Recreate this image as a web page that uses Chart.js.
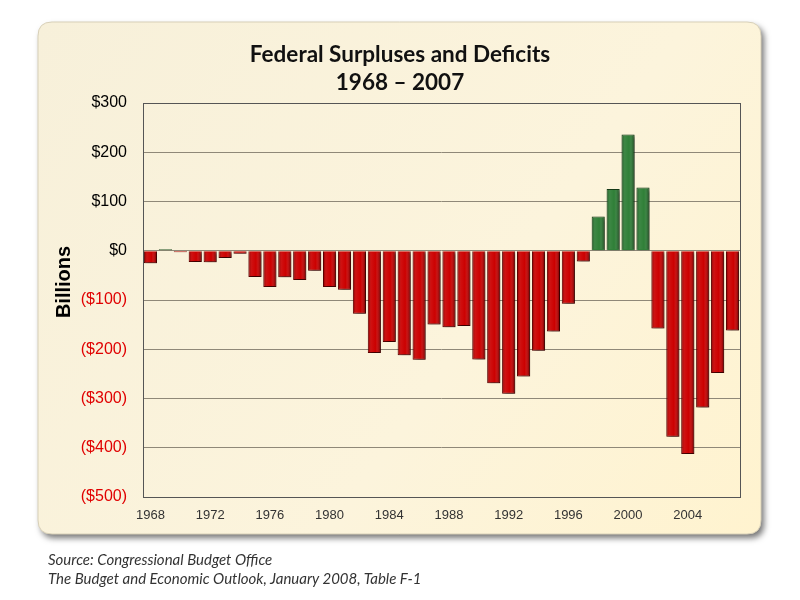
<!DOCTYPE html>
<html>
<head>
<meta charset="utf-8">
<script src="https://cdn.jsdelivr.net/npm/chart.js@4/dist/chart.umd.min.js"></script>
<style>
html,body{margin:0;padding:0;background:#fff;}
#wrap{position:relative;width:800px;height:600px;}
canvas{position:absolute;left:0;top:0;}
.src{position:absolute;left:48px;font-family:Lato,"Open Sans",sans-serif;font-style:italic;font-size:15px;color:#333;line-height:18px;}
</style>
</head>
<body>
<div id="wrap">
<canvas id="c" width="800" height="600"></canvas>
<div class="src" style="top:550px">Source: Congressional Budget Office</div>
<div class="src" style="top:569px">The Budget and Economic Outlook, January 2008, Table F-1</div>
</div>
<script>
const years = ['1968','1969','1970','1971','1972','1973','1974','1975','1976','1977','1978','1979','1980','1981','1982','1983','1984','1985','1986','1987','1988','1989','1990','1991','1992','1993','1994','1995','1996','1997','1998','1999','2000','2001','2002','2003','2004','2005','2006','2007'];
const balance = [-25.2,3.2,-2.8,-23.0,-23.4,-14.9,-6.1,-53.2,-73.7,-53.7,-59.2,-40.7,-73.8,-79.0,-128.0,-207.8,-185.4,-212.3,-221.2,-149.7,-155.2,-152.6,-221.0,-269.2,-290.3,-255.1,-203.2,-164.0,-107.4,-21.9,69.3,125.6,236.2,128.2,-157.8,-377.6,-412.7,-318.3,-248.2,-162.0];
const titleLines = ['Federal Surpluses and Deficits','1968 \u2013 2007'];
const yAxisTitle = 'Billions';

const RED = '#CC0000', RED_EDGE = '#5a0000';
const GREEN = '#2F7F37', GREEN_EDGE = '#143a17';

function roundRect(ctx,x,y,w,h,r){
  ctx.beginPath();
  ctx.moveTo(x+r,y);ctx.lineTo(x+w-r,y);ctx.quadraticCurveTo(x+w,y,x+w,y+r);
  ctx.lineTo(x+w,y+h-r);ctx.quadraticCurveTo(x+w,y+h,x+w-r,y+h);
  ctx.lineTo(x+r,y+h);ctx.quadraticCurveTo(x,y+h,x,y+h-r);
  ctx.lineTo(x,y+r);ctx.quadraticCurveTo(x,y,x+r,y);ctx.closePath();
}

const decor = {
  id:'decor',
  beforeDraw(chart){
    const ctx = chart.ctx;
    ctx.save();
    roundRect(ctx,38,22,723,512,14);
    ctx.shadowColor='rgba(0,0,0,0.55)';ctx.shadowOffsetX=3;ctx.shadowOffsetY=4;ctx.shadowBlur=6;
    const g = ctx.createLinearGradient(38,22,761,534);
    g.addColorStop(0,'#F7F0DA');g.addColorStop(0.6,'#FCF4DC');g.addColorStop(1,'#FFF3CF');
    ctx.fillStyle=g;ctx.fill();
    ctx.shadowColor='transparent';
    ctx.strokeStyle='#d8d0b8';ctx.lineWidth=1;ctx.stroke();
    ctx.restore();
    // title
    ctx.save();
    ctx.fillStyle='#111';ctx.textAlign='center';ctx.textBaseline='alphabetic';
    ctx.font='bold 22.5px Lato, "Open Sans", sans-serif';
    ctx.fillText(titleLines[0],400,62);
    ctx.fillText(titleLines[1],400,90);
    ctx.restore();
    // y axis title
    ctx.save();
    ctx.translate(70,282);ctx.rotate(-Math.PI/2);
    ctx.fillStyle='#000';ctx.textAlign='center';ctx.textBaseline='alphabetic';
    ctx.font='bold 20px "Liberation Sans", Arial, sans-serif';
    ctx.fillText(yAxisTitle,0,0);
    ctx.restore();
  },
  beforeDatasetsDraw(chart){
    const ctx=chart.ctx;ctx.save();
    ctx.shadowColor='rgba(0,0,0,0.45)';ctx.shadowOffsetX=2;ctx.shadowOffsetY=2;ctx.shadowBlur=3;
  },
  afterDatasetsDraw(chart){
    const ctx=chart.ctx;ctx.restore();
    const meta=chart.getDatasetMeta(0);
    ctx.save();
    meta.data.forEach(el=>{
      const p=el.getProps(['x','y','base','width'],true);
      const l=p.x-p.width/2+1, w=p.width-2;
      const top=Math.min(p.y,p.base)+1, h=Math.abs(p.base-p.y)-2;
      if(h<=0) return;
      const g=ctx.createLinearGradient(l,0,l+w,0);
      g.addColorStop(0,'rgba(0,0,0,0.22)');
      g.addColorStop(0.25,'rgba(255,255,255,0.06)');
      g.addColorStop(0.6,'rgba(255,255,255,0.0)');
      g.addColorStop(1,'rgba(0,0,0,0.32)');
      ctx.fillStyle=g;ctx.fillRect(l,top,w,h);
    });
    ctx.restore();
    // plot border
    const a=chart.chartArea;
    ctx.save();ctx.strokeStyle='#555';ctx.lineWidth=1;
    ctx.strokeRect(Math.round(a.left)+0.5,Math.round(a.top)+0.5,Math.round(a.right-a.left),Math.round(a.bottom-a.top));
    ctx.restore();
  }
};

new Chart(document.getElementById('c'),{
  type:'bar',
  data:{labels:years,datasets:[{
    data:balance,
    backgroundColor:balance.map(v=>v>=0?GREEN:RED),
    borderColor:balance.map(v=>v>=0?GREEN_EDGE:RED_EDGE),
    borderWidth:1,
    barPercentage:0.88,categoryPercentage:1.0
  }]},
  options:{
    responsive:false,animation:false,
    layout:{padding:{left:45,right:60,top:103,bottom:73}},
    plugins:{legend:{display:false},title:{display:false},tooltip:{enabled:false}},
    scales:{
      x:{
        afterFit(s){s.height=30;},
        grid:{display:false,drawTicks:false},
        border:{display:false},
        ticks:{autoSkip:false,maxRotation:0,padding:11,color:'#333',
          font:{family:'"Liberation Sans", Arial, sans-serif',size:13},
          callback(v,i){return i%4===0?years[i]:'';}}
      },
      y:{
        min:-500,max:300,
        afterFit(s){s.width=98;},
        grid:{color:'#8f8878',lineWidth:1,drawTicks:false},
        border:{display:false},
        ticks:{stepSize:100,padding:16,
          color(c){return c.tick.value<0?'#E00000':'#000';},
          font:{family:'"Liberation Sans", Arial, sans-serif',size:16},
          callback(v){return v<0?'($'+(-v)+')':'$'+v;}}
      }
    }
  },
  plugins:[decor]
});
</script>
</body>
</html>
